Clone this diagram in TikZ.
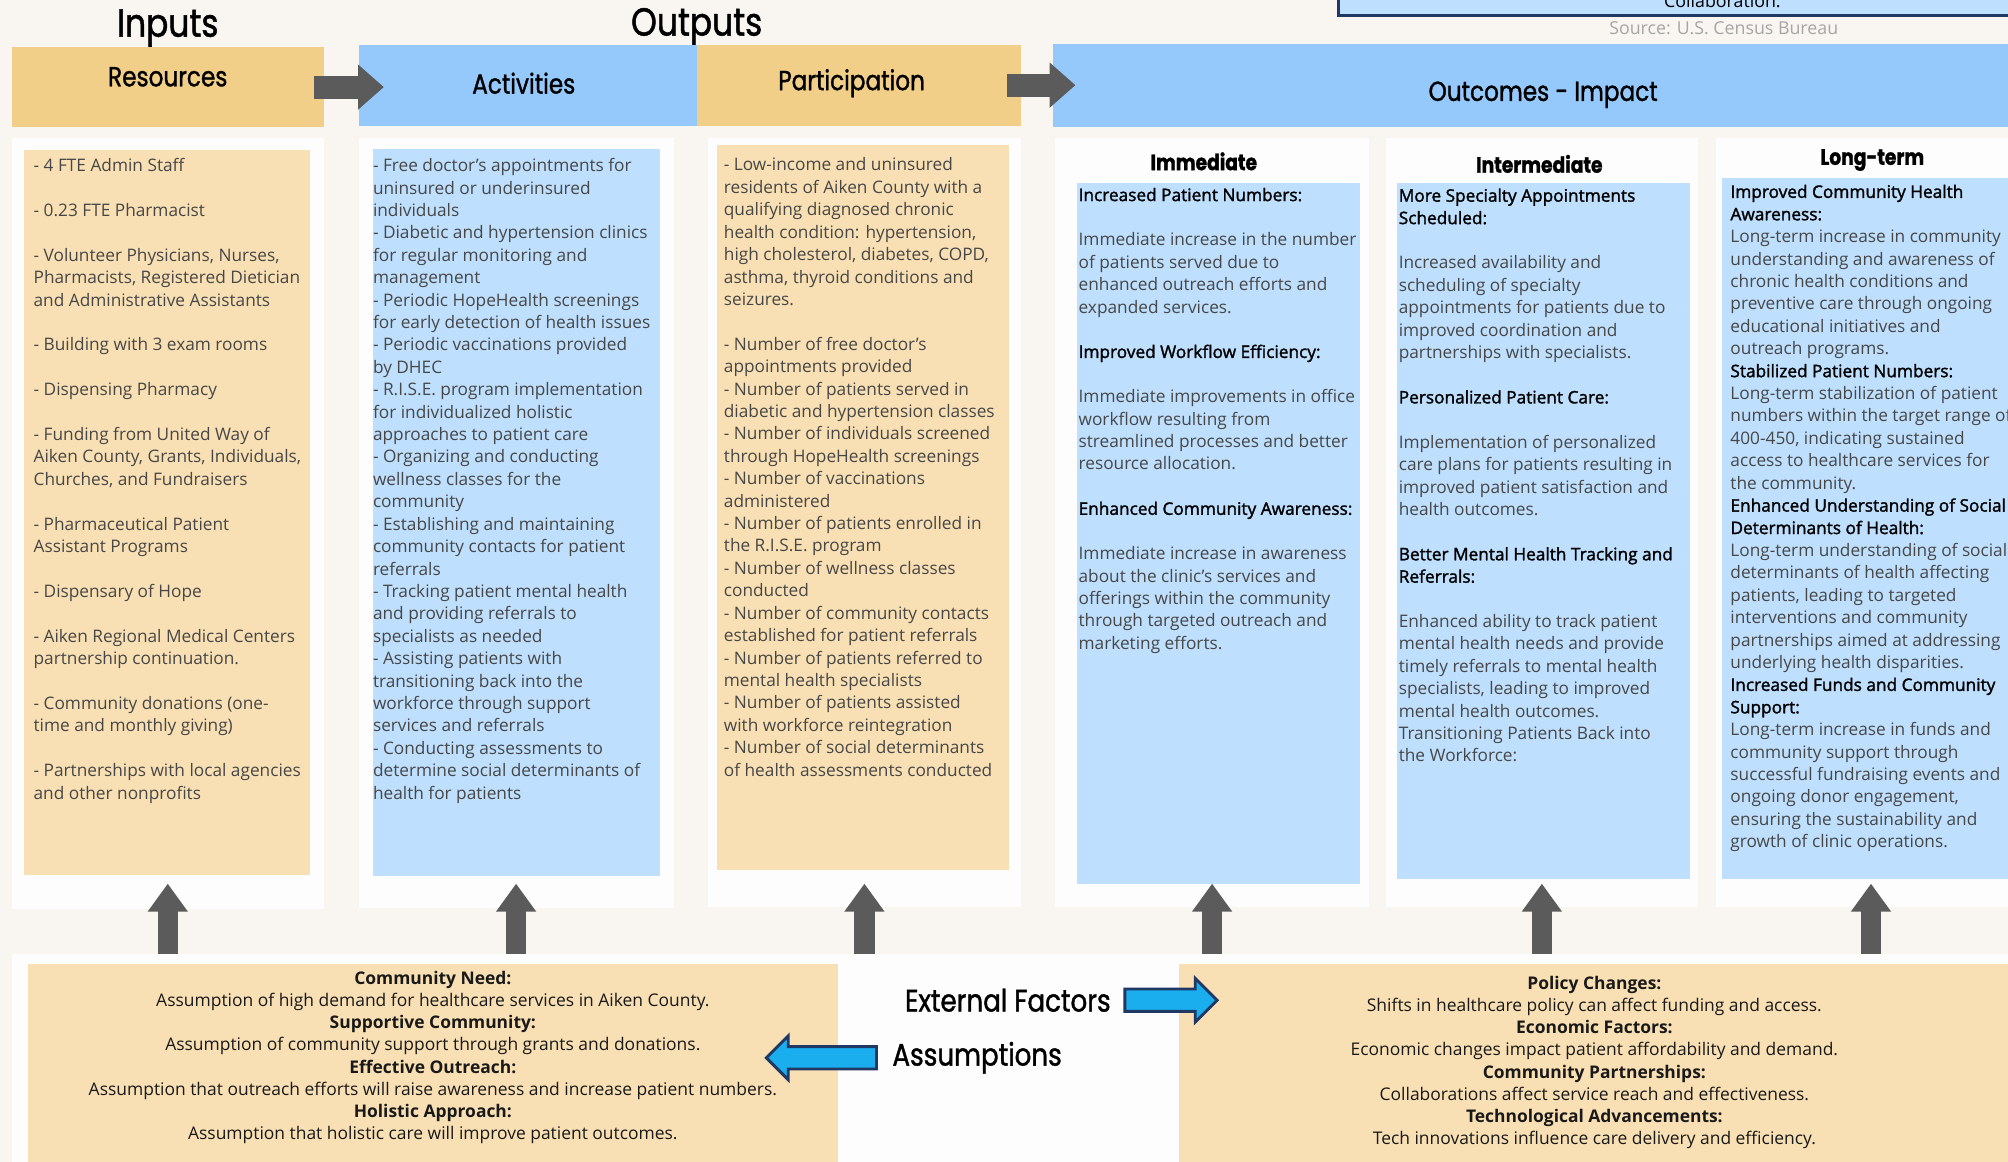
\documentclass[tikz,border=0pt]{standalone}
\usepackage{fontspec}
\setmainfont{Open Sans}
\newfontfamily\headfont[FakeStretch=0.84,FakeBold=1.2]{Poppins}
\newfontface\headsemi[FakeBold=1.6]{Open Sans}
\usetikzlibrary{arrows.meta,shapes.arrows,positioning}
\definecolor{cream}{HTML}{F9F5F1}
\definecolor{panelwhite}{HTML}{FDFDFD}
\definecolor{gold}{HTML}{F2CF88}
\definecolor{lightgold}{HTML}{F8E0B4}
\definecolor{skyblue}{HTML}{95C9FB}
\definecolor{lightblue}{HTML}{BEDFFD}
\definecolor{arrowgray}{HTML}{5B5B5B}
\definecolor{brightblue}{HTML}{1AAEEF}
\definecolor{navy}{HTML}{1F3864}
\definecolor{bodygray}{HTML}{474747}
\definecolor{srcgray}{HTML}{A6A6A6}
\newcommand{\skipln}{\\[12.6pt]}
\newcommand{\outhead}[1]{\textcolor{black}{\headsemi #1}}
\tikzset{
    box/.style 2 args = {rectangle, inner sep=0pt,
        minimum width=#1*0.72pt,
        minimum height=#2*0.72pt},
    panel/.style 2 args = {box={#1}{#2}, fill=panelwhite},
    title/.style = {font=\headfont\fontsize{22}{26}\selectfont},
    hdrtext/.style = {font=\headfont\fontsize{15.5}{18}\selectfont},
    subhead/.style = {font=\headfont\bfseries\fontsize{12.5}{15}\selectfont},
    sidelabel/.style = {inner sep=0pt, font=\headfont\fontsize{17.5}{20}\selectfont},
    bodytext/.style = {anchor=base west, align=left, inner sep=0pt, text=bodygray,
        font=\fontsize{9.7}{12.6}\selectfont},
    factors/.style = {anchor=base, align=center, inner sep=0pt, text=black!90,
        font=\fontsize{9.8}{12.5}\selectfont},
    uparrow/.style = {draw=arrowgray, line width=11.5pt, -{Triangle[width=21.6pt,length=15.8pt]}},
    rarrow/.style = {draw=arrowgray, line width=13pt, -{Triangle[width=24.5pt,length=14.5pt]}},
    bluearrow/.style = {single arrow, draw=navy, line width=1.6pt, fill=brightblue,
        inner xsep=0pt, inner ysep=5.5pt, minimum width=24pt, single arrow head extend=6pt,
        minimum height=#1*0.72pt}
}
\begin{document}
\begin{tikzpicture}[x=0.72pt, y=-0.72pt]
    \path[use as bounding box, fill=cream] (0,0) rectangle (1568,907);
    \node[box={560}{44}, draw=navy, line width=1.5pt, fill=lightblue] (census) at (1325,-10) {};
    \node[anchor=base, font=\fontsize{10}{12}\selectfont] (collab) at (1345,6) {Collaboration.};
    \node[text=srcgray, font=\fontsize{10}{12}\selectfont] (source) at (1346,22) {Source: U.S. Census Bureau};

    \node[title] (inputs) at (131,22) {Inputs};
    \node[title] (outputs) at (544,21) {Outputs};

    \node[box={244}{62}, fill=gold] (resources) at (131,68) {};
    \node[box={264}{63}, fill=skyblue] (activities) at (412,66.5) {};
    \node[box={253}{63}, fill=gold] (participation) at (670.5,66.5) {};
    \node[box={760}{65}, fill=skyblue] (outcomes) at (1202,66.5) {};
    \node[hdrtext] (restitle) at (131,60) {Resources};
    \node[hdrtext] (acttitle) at (409,65) {Activities};
    \node[hdrtext] (parttitle) at (665,65) {Participation};
    \node[hdrtext] (outtitle) at (1205,74) {Outcomes - Impact};

    \node[panel={244}{602}] (p1) at (131,409) {};
    \node[panel={246}{601}] (p2) at (403,408.5) {};
    \node[panel={244}{600}] (p3) at (675,408) {};
    \node[panel={245}{600}] (p4) at (946.5,408) {};
    \node[panel={244}{600}] (p5) at (1204,408) {};
    \node[panel={242}{600}] (p6) at (1461,408) {};

    \node[box={223}{566}, fill=lightgold] (in1) at (130.5,400) {};
    \node[box={224}{568}, fill=lightblue] (in2) at (403,400) {};
    \node[box={228}{566}, fill=lightgold] (in3) at (674,396) {};
    \node[box={221}{547}, fill=lightblue] (in4) at (951.5,416.5) {};
    \node[box={229}{543}, fill=lightblue] (in5) at (1205.5,414.5) {};
    \node[box={245}{547}, fill=lightblue] (in6) at (1467.5,412.5) {};

    \node[subhead] (immediate) at (940,126) {Immediate};
    \node[subhead] (intermediate) at (1202,128) {Intermediate};
    \node[subhead] (longterm) at (1462,125) {Long-term};

    \node[bodytext] (restext) at (26,624) {- 4 FTE Admin Staff\skipln
        - 0.23 FTE Pharmacist\skipln
        - Volunteer Physicians, Nurses,\\
        Pharmacists, Registered Dietician\\
        and Administrative Assistants\skipln
        - Building with 3 exam rooms\skipln
        - Dispensing Pharmacy\skipln
        - Funding from United Way of\\
        Aiken County, Grants, Individuals,\\
        Churches, and Fundraisers\skipln
        - Pharmaceutical Patient\\
        Assistant Programs\skipln
        - Dispensary of Hope\skipln
        - Aiken Regional Medical Centers\\
        partnership continuation.\skipln
        - Community donations (one-\\
        time and monthly giving)\skipln
        - Partnerships with local agencies\\
        and other nonprofits};
    \node[bodytext] (acttext) at (291,624) {- Free doctor's appointments for\\
        uninsured or underinsured\\
        individuals\\
        - Diabetic and hypertension clinics\\
        for regular monitoring and\\
        management\\
        - Periodic HopeHealth screenings\\
        for early detection of health issues\\
        - Periodic vaccinations provided\\
        by DHEC\\
        - R.I.S.E. program implementation\\
        for individualized holistic\\
        approaches to patient care\\
        - Organizing and conducting\\
        wellness classes for the\\
        community\\
        - Establishing and maintaining\\
        community contacts for patient\\
        referrals\\
        - Tracking patient mental health\\
        and providing referrals to\\
        specialists as needed\\
        - Assisting patients with\\
        transitioning back into the\\
        workforce through support\\
        services and referrals\\
        - Conducting assessments to\\
        determine social determinants of\\
        health for patients};
    \node[bodytext] (parttext) at (565,606) {- Low-income and uninsured\\
        residents of Aiken County with a\\
        qualifying diagnosed chronic\\
        health condition: hypertension,\\
        high cholesterol, diabetes, COPD,\\
        asthma, thyroid conditions and\\
        seizures.\skipln
        - Number of free doctor's\\
        appointments provided\\
        - Number of patients served in\\
        diabetic and hypertension classes\\
        - Number of individuals screened\\
        through HopeHealth screenings\\
        - Number of vaccinations\\
        administered\\
        - Number of patients enrolled in\\
        the R.I.S.E. program\\
        - Number of wellness classes\\
        conducted\\
        - Number of community contacts\\
        established for patient referrals\\
        - Number of patients referred to\\
        mental health specialists\\
        - Number of patients assisted\\
        with workforce reintegration\\
        - Number of social determinants\\
        of health assessments conducted};
    \node[bodytext] (immtext) at (842,507) {\outhead{Increased Patient Numbers:}\skipln
        Immediate increase in the number\\
        of patients served due to\\
        enhanced outreach efforts and\\
        expanded services.\skipln
        \outhead{Improved Workflow Efficiency:}\skipln
        Immediate improvements in office\\
        workflow resulting from\\
        streamlined processes and better\\
        resource allocation.\skipln
        \outhead{Enhanced Community Awareness:}\skipln
        Immediate increase in awareness\\
        about the clinic's services and\\
        offerings within the community\\
        through targeted outreach and\\
        marketing efforts.};
    \node[bodytext] (intertext) at (1092,595) {\outhead{More Specialty Appointments}\\
        \outhead{Scheduled:}\skipln
        Increased availability and\\
        scheduling of specialty\\
        appointments for patients due to\\
        improved coordination and\\
        partnerships with specialists.\skipln
        \outhead{Personalized Patient Care:}\skipln
        Implementation of personalized\\
        care plans for patients resulting in\\
        improved patient satisfaction and\\
        health outcomes.\skipln
        \outhead{Better Mental Health Tracking and}\\
        \outhead{Referrals:}\skipln
        Enhanced ability to track patient\\
        mental health needs and provide\\
        timely referrals to mental health\\
        specialists, leading to improved\\
        mental health outcomes.\\
        Transitioning Patients Back into\\
        the Workforce:};
    \node[bodytext] (longtext) at (1351,662) {\outhead{Improved Community Health}\\
        \outhead{Awareness:}\\
        Long-term increase in community\\
        understanding and awareness of\\
        chronic health conditions and\\
        preventive care through ongoing\\
        educational initiatives and\\
        outreach programs.\\
        \outhead{Stabilized Patient Numbers:}\\
        Long-term stabilization of patient\\
        numbers within the target range of\\
        400-450, indicating sustained\\
        access to healthcare services for\\
        the community.\\
        \outhead{Enhanced Understanding of Social}\\
        \outhead{Determinants of Health:}\\
        Long-term understanding of social\\
        determinants of health affecting\\
        patients, leading to targeted\\
        interventions and community\\
        partnerships aimed at addressing\\
        underlying health disparities.\\
        \outhead{Increased Funds and Community}\\
        \outhead{Support:}\\
        Long-term increase in funds and\\
        community support through\\
        successful fundraising events and\\
        ongoing donor engagement,\\
        ensuring the sustainability and\\
        growth of clinic operations.};

    \node[box={1582}{170}, fill=panelwhite] (band) at (800,830) {};
    \node[box={632}{170}, fill=lightgold] (assumebox) at (338,838) {};
    \node[box={669}{170}, fill=lightgold] (extbox) at (1255.5,838) {};
    \node[factors] (assumetext) at (338,890) {\textbf{Community Need:}\\
        Assumption of high demand for healthcare services in Aiken County.\\
        \textbf{Supportive Community:}\\
        Assumption of community support through grants and donations.\\
        \textbf{Effective Outreach:}\\
        Assumption that outreach efforts will raise awareness and increase patient numbers.\\
        \textbf{Holistic Approach:}\\
        Assumption that holistic care will improve patient outcomes.};
    \node[factors] (exttext) at (1245,894) {\textbf{Policy Changes:}\\
        Shifts in healthcare policy can affect funding and access.\\
        \textbf{Economic Factors:}\\
        Economic changes impact patient affordability and demand.\\
        \textbf{Community Partnerships:}\\
        Collaborations affect service reach and effectiveness.\\
        \textbf{Technological Advancements:}\\
        Tech innovations influence care delivery and efficiency.};
    \node[sidelabel] (extlabel) at (787,781) {External Factors};
    \node[sidelabel] (assumelabel) at (763,826) {Assumptions};
    \node[bluearrow=72, right=7pt of extlabel] (extarrow) {};
    \node[bluearrow=86, shape border rotate=180, left=8pt of assumelabel] (assumearrow) {};

    \draw[rarrow, shorten <=-5.8pt, shorten >=-14.4pt] (resources.east) -- (resources.east -| activities.west);
    \draw[rarrow, shorten <=-8pt, shorten >=-13pt] (participation.east) -- (participation.east -| outcomes.west);
    \coordinate (tipline) at (0,690);
    \draw[uparrow] (p1.south |- band.north) -- (p1.south |- tipline);
    \draw[uparrow] (p2.south |- band.north) -- (p2.south |- tipline);
    \draw[uparrow] (p3.south |- band.north) -- (p3.south |- tipline);
    \draw[uparrow] (p4.south |- band.north) -- (p4.south |- tipline);
    \draw[uparrow] (p5.south |- band.north) -- (p5.south |- tipline);
    \draw[uparrow] (p6.south |- band.north) -- (p6.south |- tipline);
\end{tikzpicture}
\end{document}
